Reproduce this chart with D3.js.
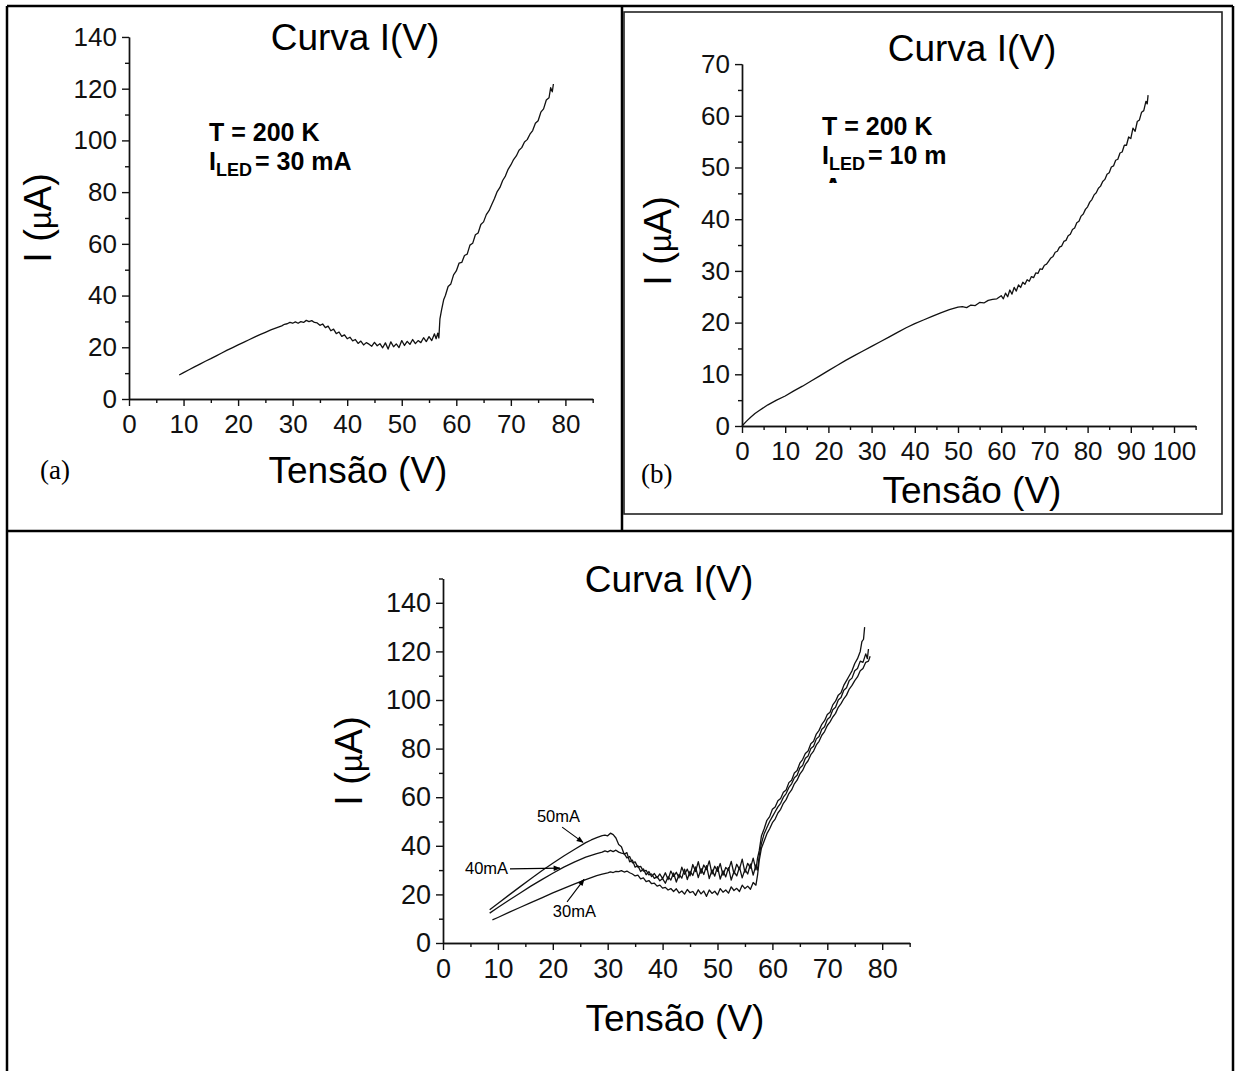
<!DOCTYPE html>
<html lang="pt">
<head>
<meta charset="utf-8">
<title>Curva I(V)</title>
<script src="https://d3js.org/d3.v7.min.js"></script>
<style>
  body { margin: 0; background: #fff; }
  svg { display: block; }
</style>
</head>
<body>
<div id="viz"></div>
<script>
// ---- data: [tensão (V), corrente (µA)] ----

// (a) T = 200 K, I_LED = 30 mA
const curveA = [
  [9.2,9.3],[10,10.2],[11,11.3],[12,12.4],[13,13.5],[14,14.6],[15,15.6],[16,16.7],[17,17.8],[18,18.9],
  [19,19.9],[20,20.9],[21,21.9],[22,22.9],[23,23.9],[24,24.9],[25,25.8],[26,26.7],[27,27.5],[28,28.3],
  [28.5,28.9],[29,29.1],[29.5,29.6],[30,29.3],[30.5,29.8],[31,29.3],[31.5,29.9],[32,29.6],[32.5,30.4],[33,29.9],
  [33.5,30.3],[34,29.6],[34.5,29.4],[35,28.5],[35.5,29],[36,27.6],[36.5,28.2],[37,26.4],[37.5,27],[38,25.3],
  [38.5,25.9],[39,24.2],[39.5,24.8],[40,23.3],[40.5,23.9],[41,22.5],[41.5,23],[42,21.5],[42.5,22.4],[43,20.9],
  [43.5,21.8],[44,21.2],[44.5,20.4],[45,21.9],[45.5,20.6],[46,21.4],[46.5,19.8],[47,21.7],[47.5,19.3],[48,22.1],
  [48.5,20.2],[49,21.3],[49.5,19.9],[50,22.6],[50.5,20.7],[51,22.3],[51.5,21.1],[52,23],[52.5,21.4],[53,22.6],
  [53.5,21.8],[54,23.7],[54.5,22.2],[55,24.1],[55.5,22.6],[56,25.2],[56.3,23.3],[56.6,25.5],[56.8,23.6],[57,31],[57.3,34.5],
  [57.7,38.5],[58,40],[58.5,43.5],[59,44.5],[59.5,48],[60,49.5],[60.5,52.5],[61,52.8],[61.5,55.5],[62,56],
  [62.5,59.5],[63,60.2],[63.5,63.5],[64,64.2],[64.5,67.5],[65,68.5],[65.5,71.3],[66,72.8],[66.5,75.2],[67,77.5],
  [67.5,80.2],[68,81.8],[68.5,84.5],[69,86.2],[69.5,88.8],[70,90.5],[70.5,92.6],[71,94],[71.5,96.2],[72,97.2],
  [72.5,99.4],[73,100.3],[73.5,102.4],[74,103.8],[74.5,106.6],[75,107.6],[75.5,110.9],[76,112.2],[76.5,115.6],[77,116.5],
  [77.3,120.4],[77.6,118.8],[77.8,121.8]
];

// (b) T = 200 K, I_LED = 10 mA
const curveB = [
  [0,0],[1,0.9],[2,1.7],[3,2.4],[4,3],[6,4.1],[8,5],[10,5.8],[12,6.8],[14,7.7],[16,8.7],[18,9.7],
  [20,10.7],[22,11.7],[24,12.7],[26,13.6],[28,14.5],[30,15.4],[32,16.3],[34,17.2],[36,18.1],[38,19],
  [40,19.8],[42,20.5],[44,21.2],[46,21.9],[48,22.5],[50,23],[51,23.1],[52,22.9],[53,23.4],[54,23.3],
  [55,23.9],[56,23.8],[57,24.3],[58,24.5],[59,24.6],[60,25.2],[60.5,24.6],[61,25.7],[61.5,25],[62,26.3],
  [62.5,25.5],[63,26.8],[63.5,26.1],[64,27.3],[64.5,26.8],[65,27.8],[65.5,27.4],[66,28.3],[66.5,28],[67,28.9],
  [67.5,28.7],[68,29.6],[68.5,29.5],[69,30.4],[69.5,30.3],[70,31.1],[70.5,31.3],[71,31.9],[71.5,32.5],[72,32.8],
  [72.5,33.6],[73,33.8],[73.5,34.6],[74,34.8],[74.5,35.7],[75,35.9],[75.5,36.8],[76,37.1],[76.5,38],[77,38.3],
  [77.5,39.3],[78,39.6],[78.5,40.6],[79,41],[79.5,41.9],[80,42.4],[80.5,43.3],[81,43.8],[81.5,44.7],[82,45.1],
  [82.5,46],[83,46.4],[83.5,47.3],[84,47.7],[84.5,48.7],[85,49],[85.5,50.1],[86,50.3],[86.5,51.4],[87,51.6],
  [87.5,52.8],[88,53],[88.5,54.3],[89,54.3],[89.5,55.9],[90,55.6],[90.5,57.6],[91,57],[91.5,58.9],[92,59.2],
  [92.5,60.7],[93,61],[93.5,62.8],[93.8,62.3],[94,64]
];

// (c) three LED currents
const curve50 = [
  [8.5,13.7],[10,16.3],[12,19.7],[14,23.1],[16,26.4],[18,29.7],[20,32.8],[22,35.8],[24,38.6],[26,41.3],
  [27,42.4],[28,43.4],[29,44.2],[29.5,44.4],[30,44.1],[30.5,45.2],[31,44.6],[31.5,43.2],[32,40.5],[32.5,39.6],
  [33,36.5],[33.5,37.2],[34,33.4],[34.5,34.1],[35,31.2],[35.5,31.8],[36,29.4],[36.5,30.5],[37,28.1],[37.5,29.4],
  [38,27.3],[38.5,28.6],[39,26.8],[39.5,28.4],[40,26.5],[40.5,28.9],[41,26.1],[41.5,29.6],[42,27.4],[42.5,29.1],
  [43,26.8],[43.5,31.2],[44,28.3],[44.5,30.4],[45,27.6],[45.5,32.3],[46,29.4],[46.5,33.5],[47,28.7],[47.5,32.1],
  [48,30.2],[48.5,33.8],[49,28.4],[49.5,31.6],[50,29.5],[50.5,32.7],[51,27.9],[51.5,31.1],[52,29.9],[52.5,33.6],
  [53,28.5],[53.5,32.4],[54,30.3],[54.5,34.5],[55,29.1],[55.5,32.8],[56,30.8],[56.5,34.9],[57,30.1],[57.3,35],
  [57.6,38],[58,44],[58.5,47],[59,50.5],[59.5,52],[60,55],[60.5,56],[61,58.5],[61.5,59.5],[62,62],
  [62.5,63],[63,66],[63.5,67],[64,70],[64.5,71],[65,74],[65.5,75.5],[66,78],[66.5,79],[67,82],
  [67.5,83],[68,86],[68.5,87.5],[69,90],[69.5,91.5],[70,94],[70.5,95],[71,98],[71.5,99.5],[72,102],
  [72.5,103],[73,106],[73.5,108],[74,110],[74.5,112],[75,115],[75.5,117],[76,120],[76.3,124],[76.6,125],[76.8,130]
];

const curve40 = [
  [8.5,12.3],[10,14.6],[12,17.6],[14,20.5],[16,23.4],[18,26.1],[20,28.7],[22,31.2],[24,33.4],[26,35.3],
  [27,36.1],[28,36.8],[29,37.4],[29.5,37.9],[30,37.5],[30.5,38.1],[31,37.6],[31.5,38.2],[32,37.4],[32.5,37],
  [33,36.8],[33.5,35],[34,35.6],[34.5,33],[35,33.4],[35.5,31.2],[36,31.5],[36.5,29.6],[37,29.9],[37.5,28],
  [38,28.4],[38.5,26.6],[39,27.3],[39.5,25.6],[40,26.5],[40.5,24.6],[41,27.3],[41.5,25.9],[42,28.8],[42.5,25.1],
  [43,28.2],[43.5,26.7],[44,30.4],[44.5,26.1],[45,29.5],[45.5,27.8],[46,31.3],[46.5,26.9],[47,30.6],[47.5,28.2],
  [48,31.8],[48.5,26.5],[49,30.1],[49.5,27.5],[50,31.4],[50.5,26.3],[51,29.7],[51.5,27.2],[52,31],[52.5,25.9],
  [53,29.4],[53.5,27.6],[54,31.2],[54.5,26.8],[55,30.3],[55.5,28.4],[56,32.5],[56.5,27.9],[57,32.1],[57.3,30],
  [57.6,36],[58,41],[58.5,45],[59,47.5],[59.5,50],[60,52],[60.5,54],[61,56],[61.5,57.5],[62,60],
  [62.5,61.5],[63,64],[63.5,65.5],[64,68],[64.5,69],[65,72],[65.5,73],[66,76],[66.5,77],[67,80],
  [67.5,81],[68,84],[68.5,85],[69,88],[69.5,89],[70,92],[70.5,93],[71,96],[71.5,97],[72,100],
  [72.5,101],[73,104],[73.5,105],[74,108],[74.5,109],[75,112],[75.5,113],[76,116],[76.5,115.5],[77,119],
  [77.3,117],[77.5,121]
];

const curve30 = [
  [9,9.5],[10,10.5],[12,12.6],[14,14.6],[16,16.6],[18,18.6],[20,20.6],[22,22.5],[24,24.3],[26,26.1],
  [27,26.9],[28,27.7],[29,28.3],[30,28.9],[30.5,29.3],[31,29],[31.5,29.5],[32,29.4],[32.5,29.8],[33,29.2],
  [33.5,29.6],[34,28.9],[34.5,28.4],[35,27.6],[35.5,27.9],[36,26.4],[36.5,26.8],[37,25.3],[37.5,25.7],[38,24.4],
  [38.5,24.6],[39,23.4],[39.5,23.8],[40,22.6],[40.5,22.9],[41,21.8],[41.5,22.4],[42,21.2],[42.5,22.3],[43,20.6],
  [43.5,21.4],[44,20.1],[44.5,22],[45,20.7],[45.5,21.2],[46,19.6],[46.5,21.9],[47,20.2],[47.5,21.4],[48,19.2],
  [48.5,21.8],[49,20.4],[49.5,21.3],[50,19.8],[50.5,22.4],[51,20.9],[51.5,21.8],[52,20.5],[52.5,23.1],[53,21.6],
  [53.5,22.5],[54,21.2],[54.5,23.8],[55,22.4],[55.5,23.4],[56,22.1],[56.5,24.9],[57,23.8],[57.3,28],[57.6,34],
  [58,39],[58.5,42],[59,45],[59.5,47],[60,49.5],[60.5,51],[61,53.5],[61.5,55],[62,57.5],[62.5,59],
  [63,61.5],[63.5,63],[64,65.5],[64.5,67],[65,69.5],[65.5,71],[66,73.5],[66.5,75],[67,77.5],[67.5,79],
  [68,81.5],[68.5,83],[69,85.5],[69.5,87],[70,89.5],[70.5,91],[71,93],[71.5,94.5],[72,97],[72.5,98.5],
  [73,100.5],[73.5,102],[74,104.5],[74.5,106],[75,108],[75.5,109.5],[76,112],[76.5,113],[77,115.5],[77.5,116],[77.8,118]
];

// labels of panel (c): text anchor and arrow, in data units
const ledLabels = ["50mA", "40mA", "30mA"];
const ledLabelPos = [[17.1, 49.8], [4.0, 28.4], [20.0, 10.7]];
const ledArrowFrom = [[21.7, 47.7], [12.2, 30.5], [22.6, 16.9]];
const ledArrowTo = [[25.5, 41.4], [21.3, 30.8], [25.7, 26.2]];

// tick values
const xTicksAB = [0, 10, 20, 30, 40, 50, 60, 70, 80];
const xTicksB = [0, 10, 20, 30, 40, 50, 60, 70, 80, 90, 100];
const yTicksA = [0, 20, 40, 60, 80, 100, 120, 140];
const yTicksB = [0, 10, 20, 30, 40, 50, 60, 70];

// ---- drawing ----
const W = 1237, H = 1071;
const FONT = "'Liberation Sans', Arial, sans-serif";

const svg = d3.select("#viz").append("svg")
    .attr("width", W)
    .attr("height", H);

svg.append("defs").append("marker")
    .attr("id", "arrow")
    .attr("viewBox", "0 0 10 10")
    .attr("refX", 9).attr("refY", 5)
    .attr("markerWidth", 9).attr("markerHeight", 7)
    .attr("markerUnits", "userSpaceOnUse")
    .attr("orient", "auto")
  .append("path")
    .attr("d", "M0,1 L10,5 L0,9 Z")
    .attr("fill", "#000");

// table borders around the figures
const frame = svg.append("g").attr("stroke", "#000").attr("stroke-width", 2.5).attr("fill", "none");
frame.append("line").attr("x1", 7).attr("y1", 6).attr("x2", 1233).attr("y2", 6);
frame.append("line").attr("x1", 7).attr("y1", 6).attr("x2", 7).attr("y2", H);
frame.append("line").attr("x1", 1233).attr("y1", 6).attr("x2", 1233).attr("y2", H);
frame.append("line").attr("x1", 622).attr("y1", 6).attr("x2", 622).attr("y2", 531);
frame.append("line").attr("x1", 7).attr("y1", 531).attr("x2", 1233).attr("y2", 531);
// inner frame of picture (b)
svg.append("rect")
    .attr("x", 624).attr("y", 12).attr("width", 598).attr("height", 502)
    .attr("fill", "none").attr("stroke", "#222").attr("stroke-width", 1.6);

function drawPanel(p) {
  const x = d3.scaleLinear().domain([0, p.xEnd]).range([p.x0, p.x0 + p.xEnd * p.xUnit]);
  const y = d3.scaleLinear().domain([0, p.yEnd]).range([p.y0, p.y0 - p.yEnd * p.yUnit]);
  const g = svg.append("g");

  // minor ticks
  g.append("g")
      .attr("transform", `translate(0,${p.y0})`)
      .call(d3.axisBottom(x).tickValues(p.xMinor).tickSize(4).tickSizeOuter(0).tickFormat(""));
  g.append("g")
      .attr("transform", `translate(${p.x0},0)`)
      .call(d3.axisLeft(y).tickValues(p.yMinor).tickSize(4).tickSizeOuter(0).tickFormat(""));

  // major ticks with labels
  const xa = g.append("g")
      .attr("transform", `translate(0,${p.y0})`)
      .call(d3.axisBottom(x).tickValues(p.xTicks).tickSize(7).tickSizeOuter(0).tickPadding(9));
  const ya = g.append("g")
      .attr("transform", `translate(${p.x0},0)`)
      .call(d3.axisLeft(y).tickValues(p.yTicks).tickSize(7).tickSizeOuter(0).tickPadding(5));

  g.selectAll(".domain, .tick line").attr("stroke", "#111").attr("stroke-width", 1.4);
  [xa, ya].forEach(a => a.attr("font-family", FONT).attr("font-size", p.tickFont)
      .selectAll("text").attr("fill", "#111"));

  // curves
  const line = d3.line().x(d => x(d[0])).y(d => y(d[1]));
  p.series.forEach(s => {
    g.append("path")
        .datum(s)
        .attr("fill", "none")
        .attr("stroke", "#111")
        .attr("stroke-width", 1.3)
        .attr("stroke-linejoin", "round")
        .attr("d", line);
  });

  // titles
  g.append("text")
      .attr("x", p.titleX).attr("y", p.titleY)
      .attr("text-anchor", "middle")
      .attr("font-family", FONT).attr("font-size", 37)
      .text("Curva I(V)");
  g.append("text")
      .attr("x", p.xLabelX).attr("y", p.xLabelY)
      .attr("text-anchor", "middle")
      .attr("font-family", FONT).attr("font-size", 37)
      .text("Tensão (V)");
  const yl = g.append("text")
      .attr("transform", `translate(${p.yLabelX},${p.yLabelY}) rotate(-90)`)
      .attr("text-anchor", "middle")
      .attr("font-family", FONT).attr("font-size", 38);
  yl.append("tspan").text("I (");
  yl.append("tspan").attr("font-size", 31).text("µ");
  yl.append("tspan").text("A)");

  return {x, y, g};
}

function drawNote(g, nx, ny, current) {
  const t = g.append("g").attr("font-family", FONT).attr("font-weight", "bold").attr("fill", "#000");
  t.append("text").attr("x", nx).attr("y", ny).attr("font-size", 25).text("T = 200 K");
  const l2 = t.append("text").attr("x", nx).attr("y", ny + 29).attr("font-size", 25);
  l2.append("tspan").text("I");
  l2.append("tspan").attr("font-size", 18).attr("dy", 6).text("LED");
  l2.append("tspan").attr("dy", -6).attr("dx", 3).text("= " + current);
}

function panelTag(label, tx, ty) {
  svg.append("text")
      .attr("x", tx).attr("y", ty)
      .attr("font-family", "'Liberation Serif', 'Times New Roman', serif")
      .attr("font-size", 27)
      .text(label);
}

// (a)
const pa = drawPanel({
  x0: 129, y0: 399, xUnit: 5.455, yUnit: 2.586, xEnd: 85, yEnd: 140,
  xTicks: xTicksAB, xMinor: [5, 15, 25, 35, 45, 55, 65, 75, 85],
  yTicks: yTicksA, yMinor: [10, 30, 50, 70, 90, 110, 130],
  tickFont: 26, series: [curveA],
  titleX: 355, titleY: 50, xLabelX: 358, xLabelY: 483, yLabelX: 51, yLabelY: 218
});
drawNote(pa.g, 209, 141, "30 mA");
panelTag("(a)", 40, 479);

// (b)
const pb = drawPanel({
  x0: 742, y0: 426, xUnit: 4.32, yUnit: 5.17, xEnd: 105, yEnd: 70,
  xTicks: xTicksB, xMinor: [5, 15, 25, 35, 45, 55, 65, 75, 85, 95, 105],
  yTicks: yTicksB, yMinor: [5, 15, 25, 35, 45, 55, 65],
  tickFont: 26, series: [curveB],
  titleX: 972, titleY: 61, xLabelX: 972, xLabelY: 503, yLabelX: 671, yLabelY: 241
});
drawNote(pb.g, 822, 135, "10 m");
// cut-off "A" below the note, only its tip shows
pb.g.append("clipPath").attr("id", "cutA")
  .append("rect").attr("x", 815).attr("y", 177).attr("width", 30).attr("height", 6);
pb.g.append("text")
    .attr("x", 824).attr("y", 196)
    .attr("clip-path", "url(#cutA)")
    .attr("font-family", FONT).attr("font-weight", "bold").attr("font-size", 25)
    .text("A");
panelTag("(b)", 641, 483);

// (c)
const pc = drawPanel({
  x0: 443, y0: 943, xUnit: 5.49, yUnit: 2.43, xEnd: 85, yEnd: 150,
  xTicks: xTicksAB, xMinor: [5, 15, 25, 35, 45, 55, 65, 75, 85],
  yTicks: yTicksA, yMinor: [10, 30, 50, 70, 90, 110, 130, 150],
  tickFont: 27, series: [curve50, curve40, curve30],
  titleX: 669, titleY: 592, xLabelX: 675, xLabelY: 1031, yLabelX: 362, yLabelY: 761
});

ledLabels.forEach((lab, i) => {
  pc.g.append("text")
      .attr("x", pc.x(ledLabelPos[i][0])).attr("y", pc.y(ledLabelPos[i][1]))
      .attr("font-family", FONT).attr("font-size", 16.5)
      .text(lab);
  pc.g.append("line")
      .attr("x1", pc.x(ledArrowFrom[i][0])).attr("y1", pc.y(ledArrowFrom[i][1]))
      .attr("x2", pc.x(ledArrowTo[i][0])).attr("y2", pc.y(ledArrowTo[i][1]))
      .attr("stroke", "#000").attr("stroke-width", 1.1)
      .attr("marker-end", "url(#arrow)");
});
</script>
</body>
</html>
